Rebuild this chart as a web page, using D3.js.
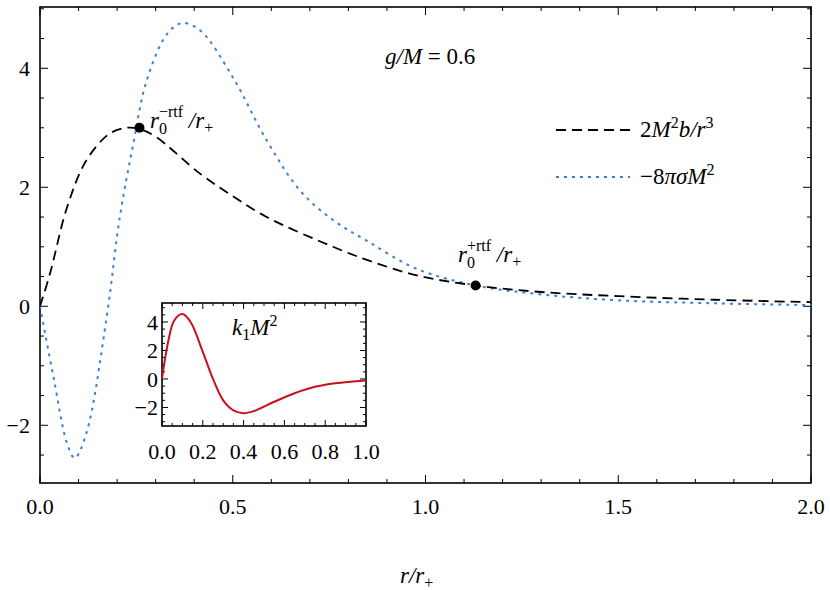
<!DOCTYPE html>
<html><head><meta charset="utf-8">
<script src="https://cdn.jsdelivr.net/npm/d3@7"></script>
<style>body{margin:0;background:#fff} svg, svg text{font-family:"Liberation Serif","Times New Roman","DejaVu Serif",serif !important}</style>
</head><body><svg width="830" height="590" font-family="Liberation Serif, serif"></svg>
<script>
// values
var bR   = [0, 0.026, 0.07, 0.12, 0.18, 0.225, 0.258, 0.3, 0.415, 0.5, 0.588, 0.76, 0.848, 0.977, 1.13, 1.3, 1.5, 1.75, 2.0];
var bVal = [0, 0.55, 1.66, 2.45, 2.9, 3.0, 2.98, 2.85, 2.23, 1.85, 1.5, 1.0, 0.78, 0.52, 0.35, 0.24, 0.17, 0.11, 0.07];
var sR   = [0, 0.035, 0.07, 0.09, 0.12, 0.173, 0.207, 0.242, 0.277, 0.33, 0.368, 0.415, 0.5, 0.588, 0.674, 0.76, 0.848, 0.977, 1.13, 1.3, 1.5, 1.75, 2.0];
var sVal = [0, -1.19, -2.3, -2.55, -2.14, -0.18, 1.5, 2.73, 3.8, 4.58, 4.76, 4.64, 3.85, 2.79, 1.95, 1.45, 1.1, 0.63, 0.35, 0.2, 0.1, 0.05, 0.02];
var kR   = [0, 0.03, 0.06, 0.1, 0.14, 0.2, 0.25, 0.3, 0.35, 0.4, 0.45, 0.55, 0.65, 0.75, 0.85, 1.0];
var kVal = [0, 2.6, 4.1, 4.55, 4.0, 1.9, 0, -1.5, -2.2, -2.4, -2.25, -1.6, -1.0, -0.55, -0.3, -0.1];
var points = [[0.258, 3.0], [1.13, 0.35]];
var xTicks = [0, 0.5, 1.0, 1.5, 2.0];
var yTicks = [-2, 0, 2, 4];
var kxTicks = [0, 0.2, 0.4, 0.6, 0.8, 1.0];
var kyTicks = [-2, 0, 2, 4];

var svg = d3.select('svg');
var x = d3.scaleLinear().domain([0, 2]).range([40, 811]);
var y = d3.scaleLinear().domain([-2.97, 5.03]).range([483, 7]);

function fmtMinus(d){ return d < 0 ? '\u2212' + Math.abs(d) : '' + d; }

function frame(xs, ys, xMaj, xMin, yMaj, yMin, fs, xl, yl, majLen, minLen){
  var g = svg.append('g');
  var x0 = xs.range()[0], x1 = xs.range()[1], y0 = ys.range()[0], y1 = ys.range()[1];
  g.append('rect').attr('x', x0).attr('y', y1).attr('width', x1 - x0).attr('height', y0 - y1)
    .attr('fill', 'none').attr('stroke', '#000').attr('stroke-width', 1.6);
  xMin.forEach(function(v){
    var len = xMaj.some(function(m){ return Math.abs(m - v) < 1e-6; }) ? majLen : minLen;
    g.append('line').attr('x1', xs(v)).attr('x2', xs(v)).attr('y1', y0).attr('y2', y0 - len).attr('stroke', '#000');
    g.append('line').attr('x1', xs(v)).attr('x2', xs(v)).attr('y1', y1).attr('y2', y1 + len).attr('stroke', '#000');
  });
  yMin.forEach(function(v){
    var len = yMaj.some(function(m){ return Math.abs(m - v) < 1e-6; }) ? majLen : minLen;
    g.append('line').attr('y1', ys(v)).attr('y2', ys(v)).attr('x1', x0).attr('x2', x0 + len).attr('stroke', '#000');
    g.append('line').attr('y1', ys(v)).attr('y2', ys(v)).attr('x1', x1).attr('x2', x1 - len).attr('stroke', '#000');
  });
  g.selectAll('.xl').data(xMaj).enter().append('text')
    .attr('x', function(d){ return xs(d); }).attr('y', y0 + xl)
    .attr('text-anchor', 'middle').attr('font-size', fs).text(function(d){ return d.toFixed(1); });
  g.selectAll('.yl').data(yMaj).enter().append('text')
    .attr('x', x0 - yl).attr('y', function(d){ return ys(d) + fs * 0.35; })
    .attr('text-anchor', 'end').attr('font-size', fs).text(fmtMinus);
}

frame(x, y, xTicks, d3.range(0, 2.001, 0.1), yTicks, d3.range(-2.5, 5.01, 0.5), 22, 31, 10, 8, 4);

var line = d3.line().curve(d3.curveCatmullRom).x(function(d){ return x(d[0]); }).y(function(d){ return y(d[1]); });
svg.append('clipPath').attr('id', 'c').append('rect').attr('x', 40).attr('y', 7).attr('width', 771).attr('height', 476);

svg.append('path').attr('clip-path', 'url(#c)').datum(d3.zip(sR, sVal)).attr('d', line)
  .attr('fill', 'none').attr('stroke', '#3d7fd0').attr('stroke-width', 2).attr('stroke-dasharray', '3,5');
svg.append('path').attr('clip-path', 'url(#c)').datum(d3.zip(bR, bVal)).attr('d', line)
  .attr('fill', 'none').attr('stroke', '#000').attr('stroke-width', 1.8).attr('stroke-dasharray', '10,6');

svg.selectAll('.pt').data(points).enter().append('circle')
  .attr('cx', function(d){ return x(d[0]); }).attr('cy', function(d){ return y(d[1]); }).attr('r', 5).attr('fill', '#000');

// annotations
function rLabel(px, py, sup){
  var t = svg.append('text').attr('x', px).attr('y', py).attr('font-size', 23);
  t.append('tspan').attr('font-style', 'italic').text('r');
  t.append('tspan').attr('font-size', 16).attr('dy', 6).text('0');
  t.append('tspan').attr('font-size', 16).attr('dx', -8).attr('dy', -17).text(sup);
  t.append('tspan').attr('dy', 11).attr('font-style', 'italic').text(' /r');
  t.append('tspan').attr('font-size', 16).attr('dy', 5).text('+');
}
rLabel(150, 128, '\u2212rtf');
rLabel(458, 262, '+rtf');

var gm = svg.append('text').attr('x', 385).attr('y', 64).attr('font-size', 23);
gm.append('tspan').attr('font-style', 'italic').text('g/M');
gm.append('tspan').text(' = 0.6');

// legend
svg.append('line').attr('x1', 556).attr('x2', 630).attr('y1', 130).attr('y2', 130)
  .attr('stroke', '#000').attr('stroke-width', 1.8).attr('stroke-dasharray', '10,6');
svg.append('line').attr('x1', 556).attr('x2', 630).attr('y1', 177).attr('y2', 177)
  .attr('stroke', '#3d7fd0').attr('stroke-width', 2).attr('stroke-dasharray', '3,5');
var l1 = svg.append('text').attr('x', 640).attr('y', 137).attr('font-size', 23);
l1.append('tspan').text('2');
l1.append('tspan').attr('font-style', 'italic').text('M');
l1.append('tspan').attr('font-size', 16).attr('dy', -9).text('2');
l1.append('tspan').attr('dy', 9).attr('font-style', 'italic').text('b/r');
l1.append('tspan').attr('font-size', 16).attr('dy', -9).text('3');
var l2 = svg.append('text').attr('x', 640).attr('y', 184).attr('font-size', 23);
l2.append('tspan').text('\u22128');
l2.append('tspan').attr('font-style', 'italic').text('\u03c0\u03c3M');
l2.append('tspan').attr('font-size', 16).attr('dy', -9).text('2');

// x title
var xt = svg.append('text').attr('x', 400).attr('y', 583).attr('font-size', 23);
xt.append('tspan').attr('font-style', 'italic').text('r/r');
xt.append('tspan').attr('font-size', 16).attr('dy', 5).text('+');

// inset
var kx = d3.scaleLinear().domain([0, 1]).range([162, 366]);
var ky = d3.scaleLinear().domain([-3.3, 5.33]).range([426, 303]);
svg.append('rect').attr('x', 162).attr('y', 303).attr('width', 204).attr('height', 123).attr('fill', '#fff');
frame(kx, ky, kxTicks, d3.range(0, 1.001, 0.05), kyTicks, d3.range(-3, 5.01, 0.5), 22, 33, 4, 6, 3);
var kline = d3.line().curve(d3.curveCatmullRom).x(function(d){ return kx(d[0]); }).y(function(d){ return ky(d[1]); });
svg.append('path').datum(d3.zip(kR, kVal)).attr('d', kline)
  .attr('fill', 'none').attr('stroke', '#c8101e').attr('stroke-width', 2);
var kl = svg.append('text').attr('x', 232).attr('y', 335).attr('font-size', 23);
kl.append('tspan').attr('font-style', 'italic').text('k');
kl.append('tspan').attr('font-size', 16).attr('dy', 5).text('1');
kl.append('tspan').attr('dy', -5).attr('font-style', 'italic').text('M');
kl.append('tspan').attr('font-size', 16).attr('dy', -9).text('2');
</script></body></html>
